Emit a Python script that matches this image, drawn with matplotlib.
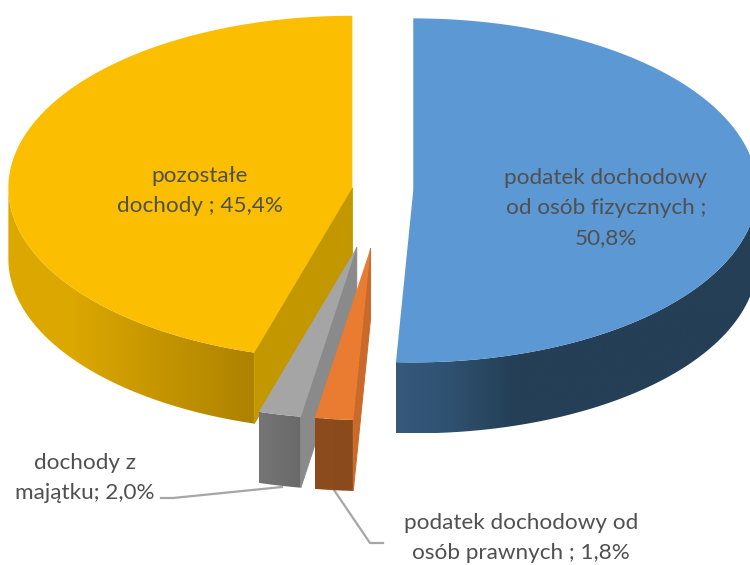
import numpy as np
import matplotlib
matplotlib.use('Agg')
import matplotlib.pyplot as plt
from matplotlib.colors import LinearSegmentedColormap
from matplotlib.patches import Polygon

# Values, clockwise from 12 o'clock
categories = ['podatek dochodowy od osób fizycznych', 'podatek dochodowy od osób prawnych',
              'dochody z majątku', 'pozostałe dochody']
shares = [50.8, 1.8, 2.0, 45.4]
labels = ['podatek dochodowy\nod osób fizycznych ;\n50,8%',
          'podatek dochodowy od\nosób prawnych ; 1,8%',
          'dochody z\nmajątku; 2,0%',
          'pozostałe\ndochody ; 45,4%']

# Pie geometry in pixels
CX, CY = 383, 190
RX, RY = 344, 172
DEPTH = 71
explode = [0.088, 0.34, 0.34, 0.09]

top_colors = ['#5B98D4', '#E97C31', '#A5A5A5', '#FBBE00']
side_colors = [None, '#C9692A', '#8A8A8A', '#C29700']
wall_colors = [[(0, '#36597C'), (0.13, '#305272'), (0.33, '#243F56'), (1, '#243F56')],
               [(0, '#8C4C1E'), (1, '#8A4A1C')],
               [(0, '#757575'), (1, '#696969')],
               [(0, '#DCA800'), (0.25, '#DCA800'), (1, '#AD8200')]]
label_pos = [(606, 208), (521, 538), (85, 478), (200, 191)]


def point(apex, angle):
    return apex[0] + RX * np.sin(angle), apex[1] - RY * np.cos(angle)


def gradient_fill(ax, poly, colors):
    xy = poly.get_xy()
    cmap = LinearSegmentedColormap.from_list('wall', colors)
    image = ax.imshow(np.linspace(0, 1, 256)[None, :], cmap=cmap, aspect='auto', zorder=poly.get_zorder(),
                      extent=(xy[:, 0].min(), xy[:, 0].max(), xy[:, 1].max(), xy[:, 1].min()))
    ax.add_patch(poly)
    poly.set_visible(False)
    image.set_clip_path(poly)


def draw_slice(ax, i, start, end, z):
    mid = (start + end) / 2
    apex = (CX + explode[i] * RX * np.sin(mid), CY - explode[i] * RY * np.cos(mid))
    angles = np.linspace(start, end, 200)
    arc = np.array([point(apex, a) for a in angles])

    # outer wall, only the front half of the rim can be seen
    front = arc[(angles > np.pi / 2) & (angles < 3 * np.pi / 2)]
    if len(front):
        lower = front[::-1] + [0, DEPTH]
        wall = Polygon(np.vstack([front, lower]), closed=True, zorder=z, lw=0)
        gradient_fill(ax, wall, wall_colors[i])

    # flat wall on the side facing the viewer, thin edge hides the seam with the outer wall
    if side_colors[i]:
        edge = point(apex, start)
        side = [apex, edge, (edge[0], edge[1] + DEPTH), (apex[0], apex[1] + DEPTH)]
        ax.add_patch(Polygon(side, color=side_colors[i], lw=0.7, zorder=z + 0.1))

    ax.add_patch(Polygon(np.vstack([[apex], arc]), color=top_colors[i], lw=0, zorder=z + 0.2))


def main():
    plt.rcParams['font.family'] = ['Lato', 'DejaVu Sans']
    fig = plt.figure(figsize=(7.5, 5.65), dpi=100)
    ax = fig.add_axes([0, 0, 1, 1])

    # leader lines stay behind the slices
    ax.plot([161, 173, 282], [498, 498, 487], color='#A6A6A6', lw=1.6, zorder=1)
    ax.plot([334, 370, 383], [490, 543, 543], color='#A6A6A6', lw=1.6, zorder=1)

    edges = np.cumsum([0] + shares) / sum(shares) * 2 * np.pi
    for z, i in zip([5, 4, 3, 2], range(len(shares))):
        draw_slice(ax, i, edges[i], edges[i + 1], z)

    for label, (x, y) in zip(labels, label_pos):
        ax.text(x, y, label, ha='center', va='center', fontsize=16.2, color='#505050',
                linespacing=1.6, zorder=10)

    ax.set_xlim(0, 750)
    ax.set_ylim(565, 0)
    ax.axis('off')
    fig.savefig('out.png', dpi=100, facecolor='white')


if __name__ == '__main__':
    main()
